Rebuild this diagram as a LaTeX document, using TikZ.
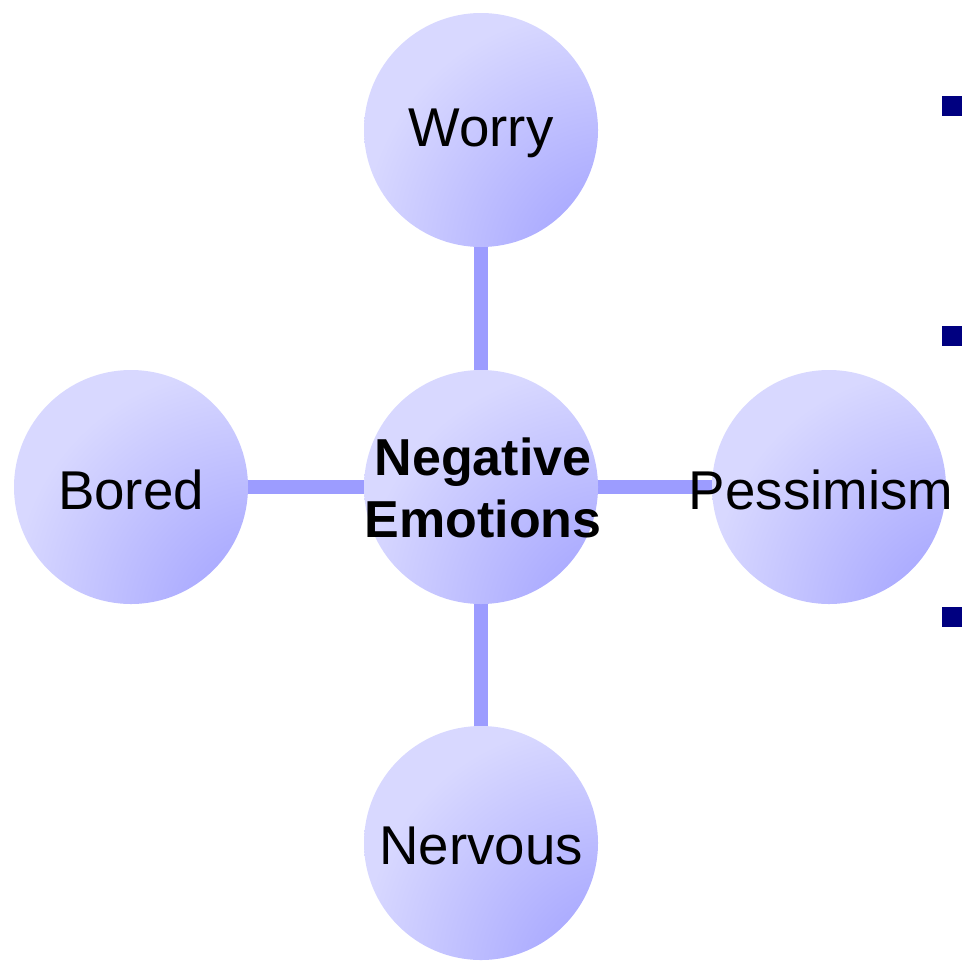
\documentclass[tikz,border=0pt]{standalone}
\usepackage{fontspec}
\setmainfont{Liberation Sans}
\definecolor{blight}{HTML}{D8D8FF}
\definecolor{bdark}{HTML}{9A9AFF}
\definecolor{linkc}{HTML}{9C9CFF}
\definecolor{navy}{HTML}{000080}
\pgfdeclareradialshading{bubbleshade}{\pgfpoint{36bp}{-36bp}}{color(0bp)=(bdark); color(6bp)=(bdark); color(48bp)=(blight); color(130bp)=(blight)}
\tikzset{
  ball/.style={circle, minimum size=175.5pt, inner sep=0pt, shading=bubbleshade},
  lbl/.style={font=\fontsize{41}{46}\selectfont, inner sep=0pt},
  centerlbl/.style={font=\fontsize{39}{47}\selectfont\bfseries, align=center, inner sep=0pt},
  link/.style={draw=linkc, line width=10.5pt},
  bulletsq/.style={fill=navy, minimum size=14.5pt, inner sep=0pt}
}
\begin{document}
\begin{tikzpicture}[x=0.75pt,y=-0.75pt]
\useasboundingbox (0,0) rectangle (969,960);
\coordinate (cw) at (481,130);
\coordinate (cc) at (481,487);
\coordinate (cb) at (131,487);
\coordinate (cp) at (829,487);
\coordinate (cn) at (481,843);
\draw[link] (cw) -- (cn);
\draw[link] (cb) -- (cp);
\node[ball] (worry) at (cw) {};
\node[ball] (center) at (cc) {};
\node[ball] (bored) at (cb) {};
\node[ball] (pess) at (cp) {};
\node[ball] (nerv) at (cn) {};
\node[lbl] (tworry) at (481,133) {Worry};
\node[lbl] (tbored) at (131,490) {Bored};
\node[lbl] (tpess) at (821,490) {Pessimism};
\node[lbl] (tnerv) at (481,846) {Nervous};
\node[centerlbl] (tcenter) at (483,488) {Negative\\Emotions};
\node[bulletsq] (b1) at (952,106) {};
\node[bulletsq] (b2) at (952,336) {};
\node[bulletsq] (b3) at (952,617) {};
\end{tikzpicture}
\end{document}
